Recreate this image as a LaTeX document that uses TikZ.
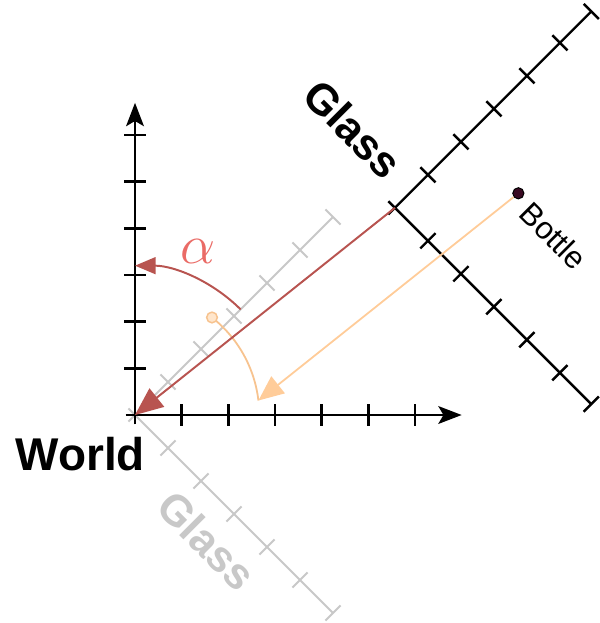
\RequirePackage{fix-cm}
\documentclass[tikz,border=0pt]{standalone}
\usepackage{fontspec}
\setmainfont{Liberation Sans}
\usepackage{tikz}
\usetikzlibrary{arrows.meta,calc}
\definecolor{framered}{HTML}{B85450}
\definecolor{alphared}{HTML}{EA6B66}
\definecolor{peach}{HTML}{FFCC99}
\definecolor{peachline}{HTML}{F7C38F}
\definecolor{peachbg}{HTML}{FFE6CC}
\definecolor{ghost}{HTML}{C8C8C8}
\definecolor{bottledot}{HTML}{3A0A22}

\begin{document}
\begin{tikzpicture}[
    axis/.style={line width=1.5pt, draw=black},
    ghostaxis/.style={line width=1.2pt, draw=ghost},
    axisarrow/.style={-{Stealth[length=5mm, width=3.8mm, inset=1.1mm]}},
    transl/.style={-{Triangle[length=6mm, width=5mm]}, line width=1.2pt, draw=framered, fill=framered},
    movebottle/.style={-{Triangle[length=5.4mm, width=4.6mm]}, line width=1.1pt, draw=peach, fill=peach},
    framelabel/.style={font=\fontsize{26.5}{26.5}\selectfont\bfseries, inner sep=0pt}
]
    \useasboundingbox (-2.893,-4.457) rectangle (9.964,8.893);

    % Glass frame copied onto the world origin
    \coordinate (O) at (0,0);
    \begin{scope}[shift={(O)}, rotate=-45]
        \draw[ghostaxis] (-0.2,0) -- (6,0);
        \draw[ghostaxis] (0,-0.2) -- (0,6);
        \foreach \i in {1,...,6} {
            \draw[ghostaxis] (\i,-0.23) -- (\i,0.23);
            \draw[ghostaxis] (-0.23,\i) -- (0.23,\i);
        }
        \coordinate (bottleO) at (1.65,2.09);
    \end{scope}
    \node[framelabel, rotate=-45, text=ghost] (ghostglass) at (1.54,-2.69) {Glass};

    % World frame
    \coordinate (xstart) at (-0.2,0);
    \coordinate (xend) at (7,0);
    \coordinate (ystart) at (0,-0.2);
    \coordinate (yend) at (0,6.69);
    \draw[axis, axisarrow] (xstart) -- (xend);
    \draw[axis, axisarrow] (ystart) -- (yend);
    \foreach \i in {1,...,6} {
        \draw[axis] (\i,-0.23) -- (\i,0.23);
        \draw[axis] (-0.23,\i) -- (0.23,\i);
    }
    \node[framelabel, font=\fontsize{28}{28}\selectfont\bfseries] (world) at (-1.17,-0.83) {World};

    % Glass frame
    \coordinate (G) at (5.57,4.44);
    \begin{scope}[shift={(G)}, rotate=-45]
        \draw[axis] (-0.2,0) -- (5.95,0);
        \draw[axis] (0,-0.2) -- (0,5.95);
        \foreach \i in {1,...,5,5.95} {
            \draw[axis] (\i,-0.23) -- (\i,0.23);
            \draw[axis] (-0.23,\i) -- (0.23,\i);
        }
        \node[circle, fill=bottledot, draw=black, line width=0.6pt, inner sep=0pt, minimum size=2.4mm] (bottle) at (1.65,2.09) {};
    \end{scope}
    \node[framelabel, rotate=-45] (glass) at (4.67,6.13) {Glass};
    \node[font=\fontsize{19}{19}\selectfont, rotate=-45, inner sep=0pt] (bottlelabel) at (8.97,3.84) {Bottle};

    % Rotation alpha
    \coordinate (alphastart) at (45:3.2);
    \draw[framered, line width=1.2pt, -{Triangle[length=4.4mm, width=3.6mm]}] (alphastart) arc[start angle=45, end angle=90, radius=3.2];
    \node[text=alphared, font=\fontsize{34}{34}\selectfont] (alpha) at (1.36,3.5) {$\alpha$};

    % Bottle seen in the world frame, rotated back
    \coordinate (tiltpt) at (1.65,2.09);
    \draw[peachline, line width=1.1pt] (tiltpt) arc[start angle=51.71, end angle=6.71, radius=2.663];
    \node[circle, fill=peachbg, draw=peachline, line width=0.9pt, inner sep=0pt, minimum size=2.3mm] (ghostdot) at (tiltpt) {};

    % Translations
    \draw[transl] (G) -- (O);
    \draw[movebottle] (bottle) -- (bottleO);
\end{tikzpicture}
\end{document}
